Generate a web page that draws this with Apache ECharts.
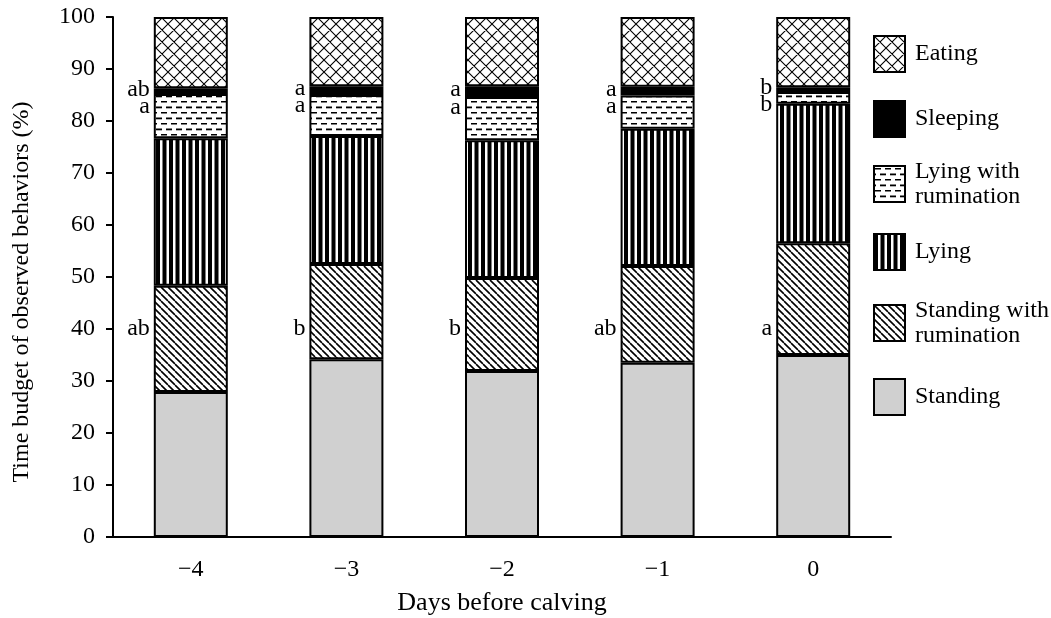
<!DOCTYPE html>
<html><head><meta charset="utf-8">
<script src="https://cdn.jsdelivr.net/npm/echarts@6/dist/echarts.min.js"></script>
<style>html,body{margin:0;padding:0;background:#fff}#c{width:1051px;height:618px}</style>
</head><body><div id="c"></div>
<script>
// ---- data ----
var categories = ['\u22124', '\u22123', '\u22122', '\u22121', '0'];
var standing    = [27.9, 34.2, 31.9, 33.5, 35.0];
var standingRum = [20.4, 18.3, 17.9, 18.6, 21.5];
var lying       = [28.4, 24.6, 26.5, 26.4, 26.8];
var lyingRum    = [8.5, 7.9, 8.3, 6.4, 2.3];
var sleeping    = [1.1, 1.7, 2.1, 1.7, 0.9];
var eating      = [13.7, 13.3, 13.3, 13.4, 13.5];
var sleepLetters    = ['ab', 'a', 'a', 'a', 'b'];
var lyingRumLetters = ['a', 'a', 'a', 'a', 'b'];
var standRumLetters = ['ab', 'b', 'b', 'ab', 'a'];
var yTicks = [0, 10, 20, 30, 40, 50, 60, 70, 80, 90, 100];

// ---- patterns ----
function mk(w, h, draw) {
  var c = document.createElement('canvas'); c.width = w; c.height = h;
  var g = c.getContext('2d'); g.fillStyle = '#fff'; g.fillRect(0, 0, w, h); draw(g, w, h);
  return { image: c, repeat: 'repeat' };
}
var patEating = mk(12, 12, function (g, w, h) {
  g.strokeStyle = '#000'; g.lineWidth = 1.1;
  g.beginPath();
  for (var k = -1; k <= 1; k++) {
    g.moveTo(k * w, 0); g.lineTo(k * w + w, h);
    g.moveTo(k * w + w, 0); g.lineTo(k * w, h);
  }
  g.stroke();
});
var patLyingRum = mk(20, 11, function (g, w, h) {
  g.fillStyle = '#000';
  g.fillRect(1, 2, 6, 1.5); g.fillRect(11, 2, 6, 1.5);
  g.fillRect(6, 7.5, 6, 1.8); g.fillRect(16, 7.5, 4, 1.8); g.fillRect(0, 7.5, 2, 1.8);
});
var patLying = mk(13, 10, function (g, w, h) {
  g.fillStyle = '#000'; g.fillRect(0, 0, 4, h); g.fillRect(6.5, 0, 4, h);
});
var patStandRum = mk(7, 7, function (g, w, h) {
  g.strokeStyle = '#000'; g.lineWidth = 1.6;
  g.beginPath();
  for (var k = -1; k <= 1; k++) { g.moveTo(k * w, 0); g.lineTo(k * w + w, h); }
  g.stroke();
});
var FONT = '"Liberation Serif", "Times New Roman", serif';

var seriesDefs = [
  ['Standing', standing, '#d0d0d0'],
  ['Standing with\nrumination', standingRum, patStandRum],
  ['Lying', lying, patLying],
  ['Lying with\nrumination', lyingRum, patLyingRum],
  ['Sleeping', sleeping, '#000'],
  ['Eating', eating, patEating]
];
var series = seriesDefs.map(function (d) {
  return {
    name: d[0], type: 'bar', stack: 'all', data: d[1], barWidth: 74,
    itemStyle: { color: d[2], borderColor: '#000', borderWidth: 2 },
    emphasis: { disabled: true }
  };
});

function cum(i, upto) { var s = 0; for (var k = 0; k < upto; k++) s += seriesDefs[k][1][i]; return s; }
var sleepLabelY = categories.map(function (c, i) { return cum(i, 4) + sleeping[i] / 2 + 0.3; });
function letterSeries(letters, ys) {
  return {
    type: 'scatter', symbolSize: 0, silent: true, z: 10,
    itemStyle: { opacity: 1 },
    data: letters.map(function (l, i) { return { value: [i, ys[i]], txt: l }; }),
    label: { show: true, position: 'left', distance: 41, color: '#000', opacity: 1, fontFamily: FONT, fontSize: 24,
      formatter: function (p) { return p.data.txt; } }
  };
}
series.push(letterSeries(sleepLetters, sleepLabelY));
series.push(letterSeries(lyingRumLetters, sleepLabelY.map(function (v) { return v - 3.3; })));
series.push(letterSeries(standRumLetters, categories.map(function () { return 40; })));

var legendItems = [
  ['Eating', 35], ['Sleeping', 100], ['Lying with\nrumination', 157],
  ['Lying', 233], ['Standing with\nrumination', 296], ['Standing', 378]
];
var legends = legendItems.map(function (it) {
  return {
    data: [it[0]], left: 873, top: it[1], orient: 'vertical', padding: 0, icon: 'rect',
    itemWidth: 31, itemHeight: 36, selectedMode: false,
    textStyle: { fontFamily: FONT, fontSize: 24, color: '#000', lineHeight: 25, padding: [4, 0, 0, 5] }
  };
});

var chart = echarts.init(document.getElementById('c'), null, { renderer: 'canvas' });
chart.setOption({
  animation: false,
  backgroundColor: '#fff',
  grid: { left: 113, right: 160, top: 17, bottom: 81, containLabel: false, outerBoundsMode: 'none' },
  legend: legends,
  xAxis: {
    type: 'category', data: categories,
    axisLine: { lineStyle: { color: '#000', width: 2 } },
    axisTick: { show: false },
    axisLabel: { color: '#000', fontFamily: FONT, fontSize: 24, margin: 21 },
    name: 'Days before calving', nameLocation: 'middle', nameGap: 53,
    nameTextStyle: { color: '#000', fontFamily: FONT, fontSize: 26 }
  },
  yAxis: {
    type: 'value', min: yTicks[0], max: yTicks[yTicks.length - 1], interval: 10,
    axisLine: { show: true, lineStyle: { color: '#000', width: 2 } },
    axisTick: { show: true, length: 7, lineStyle: { color: '#000', width: 2 } },
    splitLine: { show: false },
    axisLabel: { color: '#000', fontFamily: FONT, fontSize: 24, margin: 18 },
    name: 'Time budget of observed behaviors (%)', nameLocation: 'middle', nameGap: 79,
    nameTextStyle: { color: '#000', fontFamily: FONT, fontSize: 24, padding: [0, 30, 0, 0] }
  },
  series: series
});
</script></body></html>
